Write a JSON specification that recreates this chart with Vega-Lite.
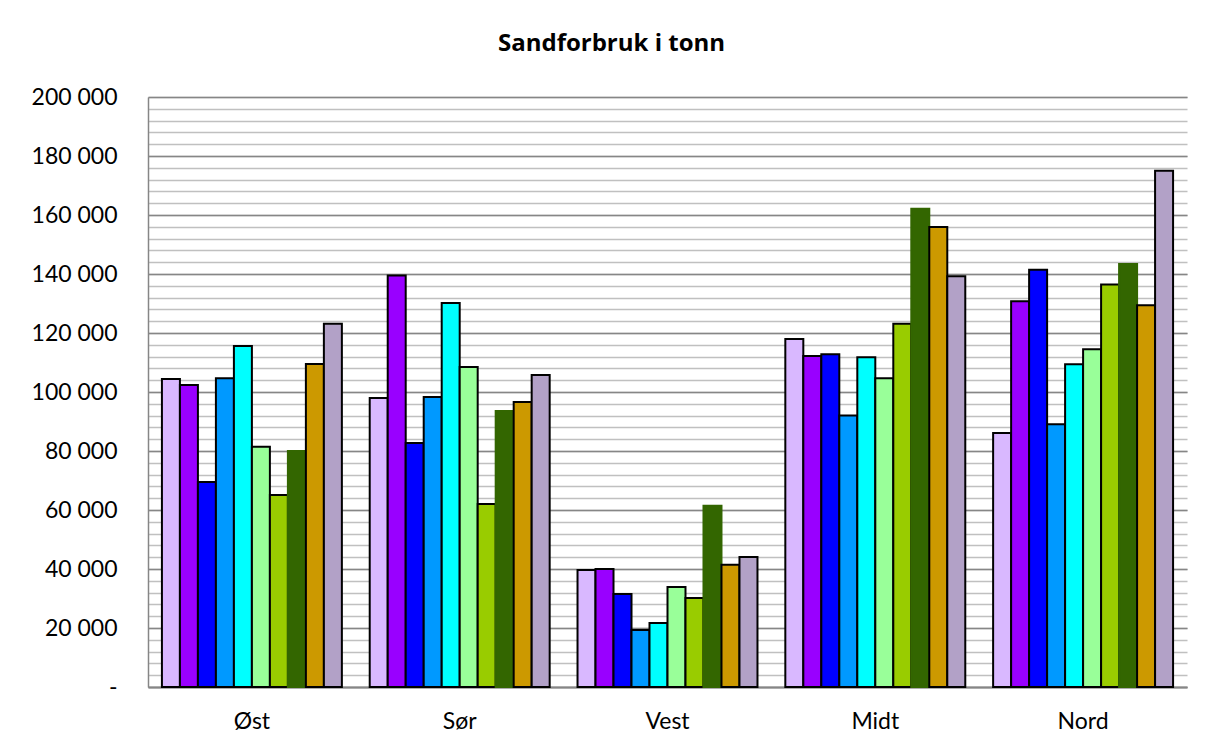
{
  "$schema": "https://vega.github.io/schema/vega-lite/v6.json",
  "width": 1039,
  "height": 590,
  "autosize": "none",
  "padding": {"left": 148, "top": 97, "right": 26, "bottom": 64},
  "background": "white",
  "title": {"text": "Sandforbruk i tonn", "font": "Open Sans", "fontSize": 24, "fontWeight": "bold", "color": "black", "anchor": "middle", "frame": "group", "dx": -56, "offset": 11, "baseline": "alphabetic"},
  "config": {"view": {"stroke": null}, "axis": {"labelFont": "Lato", "labelColor": "black"}},
  "data": {"values": [
    {"r": "Øst", "s": "Serie 01", "v": 104400}, {"r": "Øst", "s": "Serie 02", "v": 102400}, {"r": "Øst", "s": "Serie 03", "v": 69500}, {"r": "Øst", "s": "Serie 04", "v": 104700}, {"r": "Øst", "s": "Serie 05", "v": 115600}, {"r": "Øst", "s": "Serie 06", "v": 81400}, {"r": "Øst", "s": "Serie 07", "v": 65100}, {"r": "Øst", "s": "Serie 08", "v": 80000}, {"r": "Øst", "s": "Serie 09", "v": 109500}, {"r": "Øst", "s": "Serie 10", "v": 123100},
    {"r": "Sør", "s": "Serie 01", "v": 98000}, {"r": "Sør", "s": "Serie 02", "v": 139500}, {"r": "Sør", "s": "Serie 03", "v": 82700}, {"r": "Sør", "s": "Serie 04", "v": 98300}, {"r": "Sør", "s": "Serie 05", "v": 130200}, {"r": "Sør", "s": "Serie 06", "v": 108500}, {"r": "Sør", "s": "Serie 07", "v": 62000}, {"r": "Sør", "s": "Serie 08", "v": 93600}, {"r": "Sør", "s": "Serie 09", "v": 96600}, {"r": "Sør", "s": "Serie 10", "v": 105800},
    {"r": "Vest", "s": "Serie 01", "v": 39700}, {"r": "Vest", "s": "Serie 02", "v": 40000}, {"r": "Vest", "s": "Serie 03", "v": 31500}, {"r": "Vest", "s": "Serie 04", "v": 19300}, {"r": "Vest", "s": "Serie 05", "v": 21700}, {"r": "Vest", "s": "Serie 06", "v": 33900}, {"r": "Vest", "s": "Serie 07", "v": 30200}, {"r": "Vest", "s": "Serie 08", "v": 61400}, {"r": "Vest", "s": "Serie 09", "v": 41400}, {"r": "Vest", "s": "Serie 10", "v": 44100},
    {"r": "Midt", "s": "Serie 01", "v": 118000}, {"r": "Midt", "s": "Serie 02", "v": 112200}, {"r": "Midt", "s": "Serie 03", "v": 112800}, {"r": "Midt", "s": "Serie 04", "v": 92000}, {"r": "Midt", "s": "Serie 05", "v": 111800}, {"r": "Midt", "s": "Serie 06", "v": 104700}, {"r": "Midt", "s": "Serie 07", "v": 123100}, {"r": "Midt", "s": "Serie 08", "v": 162100}, {"r": "Midt", "s": "Serie 09", "v": 155900}, {"r": "Midt", "s": "Serie 10", "v": 139200},
    {"r": "Nord", "s": "Serie 01", "v": 86100}, {"r": "Nord", "s": "Serie 02", "v": 130800}, {"r": "Nord", "s": "Serie 03", "v": 141400}, {"r": "Nord", "s": "Serie 04", "v": 89100}, {"r": "Nord", "s": "Serie 05", "v": 109400}, {"r": "Nord", "s": "Serie 06", "v": 114500}, {"r": "Nord", "s": "Serie 07", "v": 136400}, {"r": "Nord", "s": "Serie 08", "v": 143400}, {"r": "Nord", "s": "Serie 09", "v": 129400}, {"r": "Nord", "s": "Serie 10", "v": 175000}
  ]},
  "layer": [
    {
      "mark": {"type": "rule", "opacity": 0},
      "encoding": {
        "y": {"field": "v", "type": "quantitative", "scale": {"domain": [0, 200000], "nice": false},
          "axis": {"orient": "right", "title": null, "labels": false, "ticks": false, "domain": false, "grid": true, "gridColor": "#C0C0C0", "gridWidth": 1.5,
            "values": [0,4000,8000,12000,16000,20000,24000,28000,32000,36000,40000,44000,48000,52000,56000,60000,64000,68000,72000,76000,80000,84000,88000,92000,96000,100000,104000,108000,112000,116000,120000,124000,128000,132000,136000,140000,144000,148000,152000,156000,160000,164000,168000,172000,176000,180000,184000,188000,192000,196000,200000]}}
      }
    },
    {
      "mark": {"type": "bar", "strokeWidth": 2},
      "encoding": {
        "x": {"field": "r", "type": "nominal", "sort": ["Øst", "Sør", "Vest", "Midt", "Nord"], "scale": {"paddingInner": 0.134, "paddingOuter": 0.067},
          "axis": {"title": null, "labelAngle": 0, "labelFontSize": 23, "labelPadding": 23, "ticks": false, "domainColor": "#868686", "domainWidth": 2}},
        "xOffset": {"field": "s", "type": "nominal", "scale": {"paddingInner": 0, "paddingOuter": 0}},
        "y": {"field": "v", "type": "quantitative", "scale": {"domain": [0, 200000], "nice": false},
          "axis": {"orient": "left", "title": null, "values": [0,20000,40000,60000,80000,100000,120000,140000,160000,180000,200000], "labelFontSize": 23, "labelPadding": 31, "ticks": false, "domainColor": "#868686", "domainWidth": 1.5, "grid": true, "gridColor": "#868686", "gridWidth": 1.5,
            "labelExpr": "datum.value == 0 ? '-\u2002\u2002' : replace(format(datum.value, ','), ',', ' ')"}},
        "fill": {"field": "s", "type": "nominal", "legend": null,
          "scale": {"domain": ["Serie 01","Serie 02","Serie 03","Serie 04","Serie 05","Serie 06","Serie 07","Serie 08","Serie 09","Serie 10"],
            "range": ["#D9B8FF","#9900FF","#0000FF","#0099FF","#00FFFF","#99FF99","#99CC00","#336600","#CC9900","#B2A1C7"]}},
        "stroke": {"condition": {"test": "datum.s == 'Serie 08'", "value": "#336600"}, "value": "black"}
      }
    }
  ],
  "resolve": {"axis": {"y": "independent"}}
}
